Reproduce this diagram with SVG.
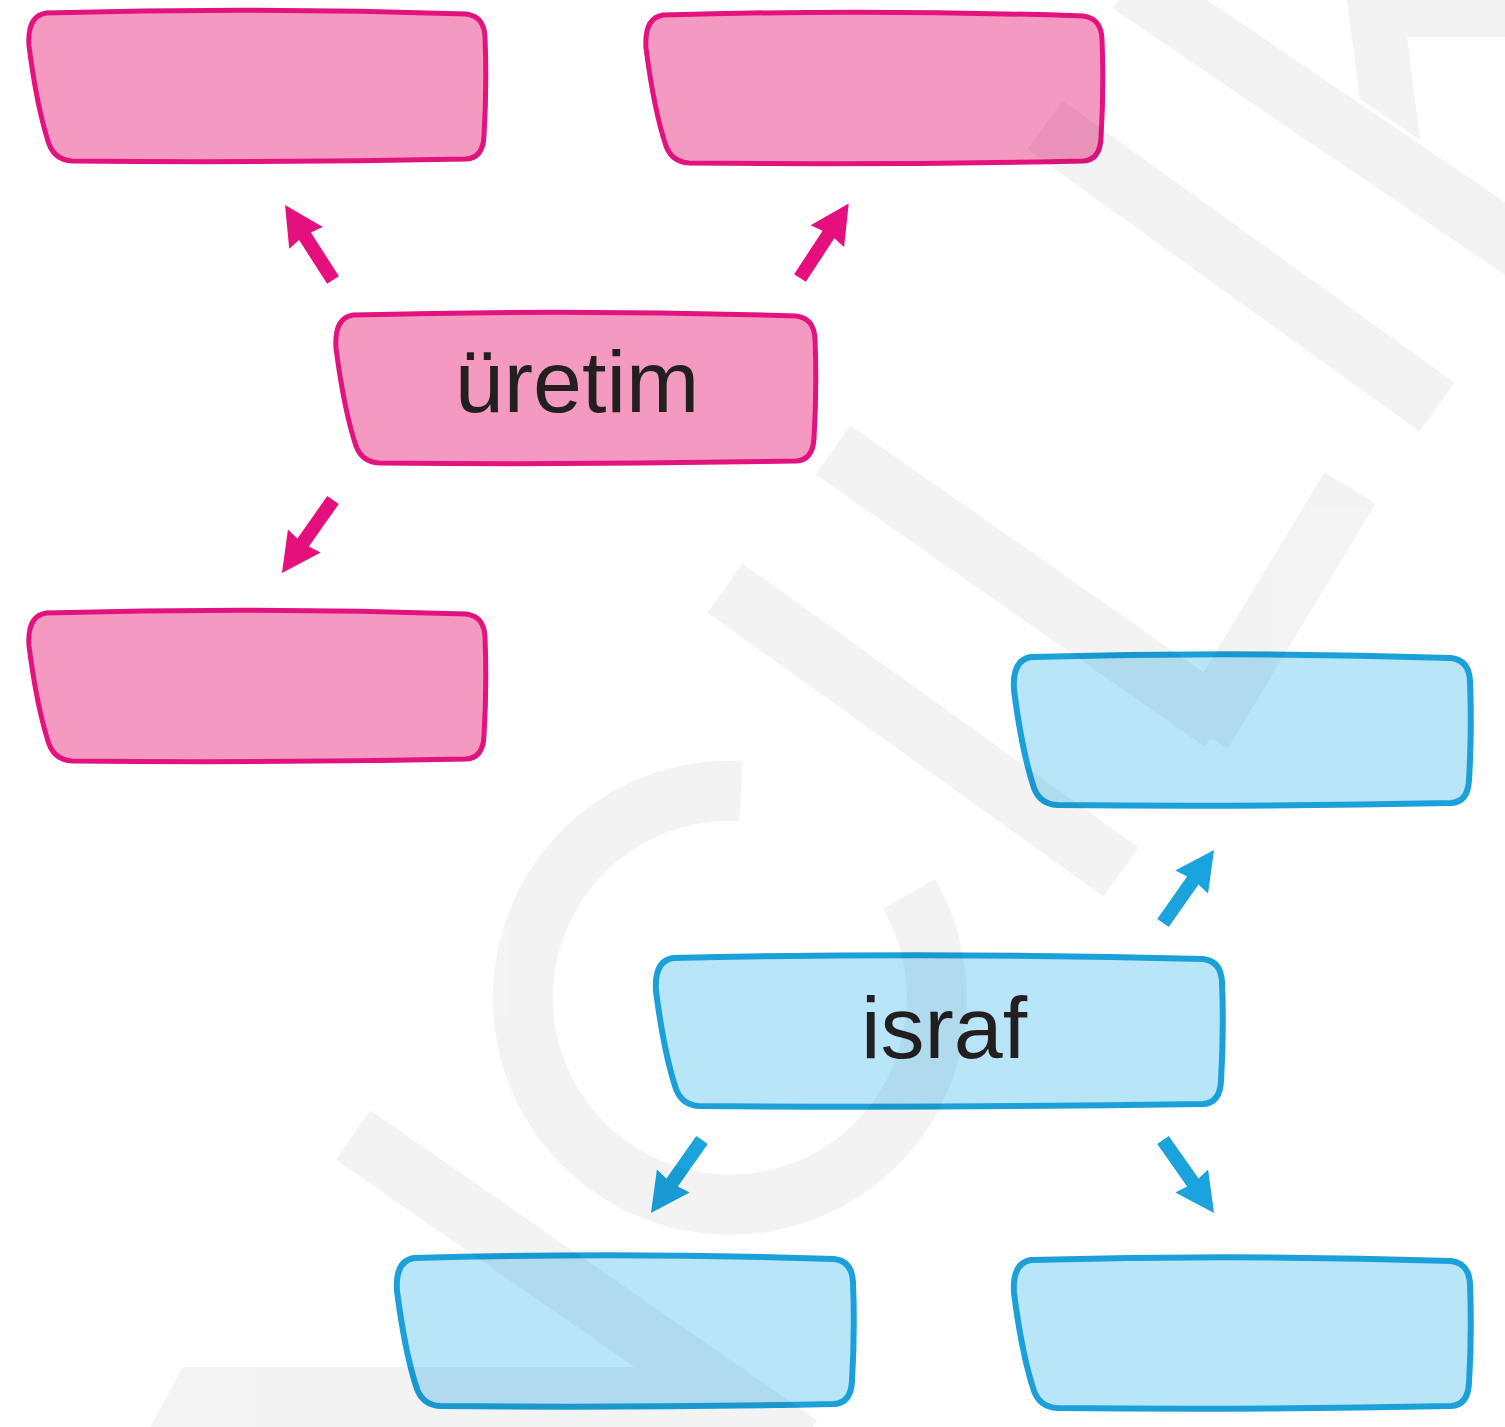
<svg xmlns="http://www.w3.org/2000/svg" xmlns:xlink="http://www.w3.org/1999/xlink" width="1505" height="1427" viewBox="0 0 1505 1427">
<style>
.pink{fill:#F49AC1;stroke:#E2137F;stroke-width:5;stroke-linejoin:round}
.blue{fill:#B9E5F9;stroke:#1BA0DA;stroke-width:6;stroke-linejoin:round}
.ap{fill:#E5107E}
.ab{fill:#1AA3DC}
.lbl{font-family:"Liberation Sans",Arial,sans-serif;font-size:88px;fill:#231F20;text-anchor:middle}
.wm{fill:none;stroke:#000;stroke-width:60;stroke-linecap:butt}
.wmf{fill:#000}
</style>
<defs>
<path id="box457" d="M18,3 Q228,-3 438,4 Q456,6 457,27 Q459,76 456,126 Q455,148 438,149 Q240,153 44,151 Q27,150 21,134 Q9,98 1,36 Q-1,6 18,3 Z"/>
<path id="arr" d="M0,-7 L52,-7 L50,-20 L89,0 L50,20 L52,7 L0,7 Z"/>
</defs>
<rect width="1505" height="1427" fill="#FFFFFF"/>

<g id="node-pink-top-left"><use xlink:href="#box457" href="#box457" class="pink" transform="translate(28,10)"/></g>
<g id="node-pink-top-right"><use xlink:href="#box457" href="#box457" class="pink" transform="translate(645,12)"/></g>
<g id="node-uretim">
<path class="pink" transform="translate(335,312)" d="M18,3 Q240,-3 461,4 Q479,6 480,27 Q482,76 479,126 Q478,148 461,149 Q250,153 44,151 Q27,150 21,134 Q9,98 1,36 Q-1,6 18,3 Z"/>
<text class="lbl" x="577" y="412">üretim</text>
</g>
<g id="node-pink-bottom-left"><use xlink:href="#box457" href="#box457" class="pink" transform="translate(28,610)"/></g>

<g id="node-blue-top-right"><use xlink:href="#box457" href="#box457" class="blue" transform="translate(1013,654)"/></g>
<g id="node-israf">
<path class="blue" transform="translate(655,955)" d="M18,3 Q283,-3 548,4 Q566,6 567,27 Q569,76 566,126 Q565,148 548,149 Q290,153 44,151 Q27,150 21,134 Q9,98 1,36 Q-1,6 18,3 Z"/>
<text class="lbl" x="944" y="1058">israf</text>
</g>
<g id="node-blue-bottom-left"><use xlink:href="#box457" href="#box457" class="blue" transform="translate(396,1255)"/></g>
<g id="node-blue-bottom-right"><use xlink:href="#box457" href="#box457" class="blue" transform="translate(1013,1257)"/></g>

<g id="connectors">
<use xlink:href="#arr" href="#arr" class="ap" transform="translate(333,280) rotate(-122.6)"/>
<use xlink:href="#arr" href="#arr" class="ap" transform="translate(800,278) rotate(-56.8)"/>
<use xlink:href="#arr" href="#arr" class="ap" transform="translate(333,500) rotate(125)"/>
<use xlink:href="#arr" href="#arr" class="ab" transform="translate(1163,923) rotate(-55)"/>
<use xlink:href="#arr" href="#arr" class="ab" transform="translate(702,1140) rotate(125)"/>
<use xlink:href="#arr" href="#arr" class="ab" transform="translate(1163,1140) rotate(55)"/>
</g>

<g id="watermark" opacity="0.045">
<line class="wm" x1="1130" y1="-16" x2="1525" y2="252"/>
<polygon class="wmf" points="1347,0 1505,0 1505,37 1407,37 1420,140 1360,99"/>
<line class="wm" x1="1045" y1="125" x2="1437" y2="407"/>
<line class="wm" x1="833" y1="450" x2="1222" y2="722"/>
<line class="wm" x1="1350" y1="488" x2="1202" y2="733"/>
<line class="wm" x1="725" y1="588" x2="1121" y2="872"/>
<path class="wm" stroke-width="57" d="M741,791 A207,207 0 1 0 909,894"/>
<line class="wm" x1="353" y1="1135" x2="800" y2="1445"/>
<polygon class="wmf" points="183,1367 728,1367 770,1427 150,1427"/>
</g>
</svg>
